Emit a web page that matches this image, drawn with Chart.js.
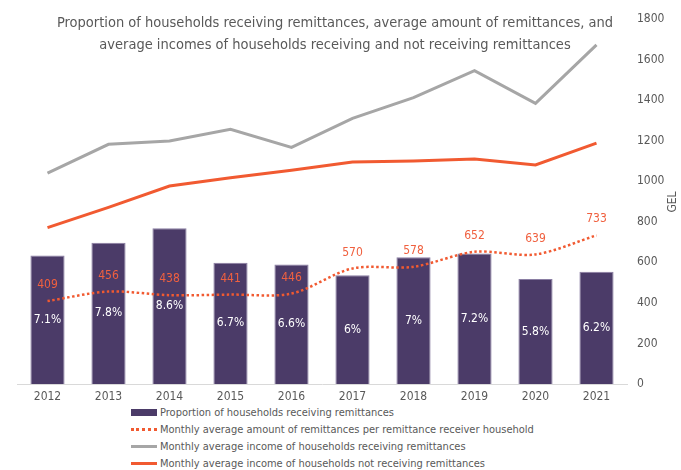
<!DOCTYPE html>
<html>
<head>
<meta charset="utf-8">
<script src="https://cdn.jsdelivr.net/npm/chart.js@4.4.0/dist/chart.umd.min.js"></script>
<style>
    body { margin: 0; background: #fff; }
    #wrap { position: relative; width: 681px; height: 470px; font-family: 'DejaVu Sans Condensed', 'Liberation Sans Narrow', 'DejaVu Sans', sans-serif; }
    #legend { position: absolute; left: 131px; top: 404px; color: #595959; font-size: 11px; }
    .leg-row { height: 17px; display: flex; align-items: center; white-space: nowrap; }
    .leg-mark { width: 26px; margin-right: 3px; }
</style>
</head>
<body>
<div id="wrap">
    <canvas id="remitChart" width="681" height="404"></canvas>
    <div id="legend"></div>
</div>
<script>
const FONT = "'DejaVu Sans Condensed', 'Liberation Sans Narrow', 'DejaVu Sans', sans-serif";
const TEXT_COLOR = '#595959';

// ==========================================================
// DATA
// ==========================================================
const years = ['2012', '2013', '2014', '2015', '2016', '2017', '2018', '2019', '2020', '2021'];
const shareReceiving = [7.1, 7.8, 8.6, 6.7, 6.6, 6, 7, 7.2, 5.8, 6.2];            // %
const avgRemittance = [409, 456, 438, 441, 446, 570, 578, 652, 639, 733];          // GEL
const incomeReceiving = [1040, 1182, 1198, 1256, 1167, 1310, 1412, 1545, 1384, 1672];
const incomeNotReceiving = [771, 871, 976, 1017, 1054, 1095, 1100, 1109, 1080, 1188];
const gelTicks = [0, 200, 400, 600, 800, 1000, 1200, 1400, 1600, 1800];

const titleLines = [
    'Proportion of households receiving remittances, average amount of remittances, and',
    'average incomes of households receiving and not receiving remittances'
];
const seriesNames = [
    'Proportion of households receiving remittances',
    'Monthly average amount of remittances per remittance receiver household',
    'Monthly average income of households receiving remittances',
    'Monthly average income of households not receiving remittances'
];

const BAR_COLOR = '#4b3b68';
const ORANGE = '#f15a31';
const GREY = '#a6a6a6';

// ==========================================================
// PLUGIN: title, GEL label and data labels
// ==========================================================
const textPlugin = {
    id: 'textPlugin',
    afterDatasetsDraw(chart) {
        const ctx = chart.ctx;
        ctx.save();

        // bar labels (white, centre of bar)
        ctx.font = '12px ' + FONT;
        ctx.textAlign = 'center';
        ctx.textBaseline = 'middle';
        ctx.fillStyle = '#ffffff';
        chart.getDatasetMeta(0).data.forEach((bar, i) => {
            ctx.fillText(shareReceiving[i] + '%', bar.x, (bar.y + bar.base) / 2);
        });

        // remittance labels above dotted line
        ctx.fillStyle = '#f0603f';
        chart.getDatasetMeta(1).data.forEach((pt, i) => {
            ctx.fillText(String(avgRemittance[i]), pt.x, pt.y - 16);
        });

        // title
        ctx.font = '14.5px ' + FONT;
        ctx.fillStyle = TEXT_COLOR;
        ctx.fillText(titleLines[0], 335, 23);
        ctx.fillText(titleLines[1], 335, 45);

        // axis title, reads bottom to top
        ctx.translate(673, 202);
        ctx.rotate(-Math.PI / 2);
        ctx.font = '12px ' + FONT;
        ctx.fillText('GEL', 0, 0);
        ctx.restore();
    }
};

const chart = new Chart(document.getElementById('remitChart').getContext('2d'), {
    type: 'bar',
    data: {
        labels: years,
        datasets: [
            {
                type: 'bar',
                label: seriesNames[0],
                data: shareReceiving,
                yAxisID: 'yShare',
                backgroundColor: BAR_COLOR,
                borderColor: '#8a7ea3',
                borderWidth: 1,
                barPercentage: 0.56,
                categoryPercentage: 1,
                order: 4
            },
            {
                type: 'line',
                label: seriesNames[1],
                data: avgRemittance,
                yAxisID: 'y',
                borderColor: ORANGE,
                borderWidth: 2.5,
                borderDash: [2.5, 2.5],
                tension: 0.3,
                pointRadius: 0,
                fill: false,
                order: 3
            },
            {
                type: 'line',
                label: seriesNames[2],
                data: incomeReceiving,
                yAxisID: 'y',
                borderColor: GREY,
                borderWidth: 3,
                tension: 0,
                pointRadius: 0,
                fill: false,
                order: 2
            },
            {
                type: 'line',
                label: seriesNames[3],
                data: incomeNotReceiving,
                yAxisID: 'y',
                borderColor: ORANGE,
                borderWidth: 3,
                tension: 0,
                pointRadius: 0,
                fill: false,
                order: 1
            }
        ]
    },
    options: {
        responsive: false,
        animation: false,
        devicePixelRatio: 1,
        layout: { padding: { left: 17, top: 19, right: 0, bottom: 0 } },
        plugins: {
            legend: { display: false },
            title: { display: false },
            tooltip: { enabled: false }
        },
        scales: {
            x: {
                grid: { display: false, drawTicks: false },
                border: { display: true, color: '#d9d9d9', width: 1 },
                ticks: { color: TEXT_COLOR, font: { family: FONT, size: 12 }, padding: 6 },
                afterFit(scale) { scale.height = 20; }
            },
            y: {
                position: 'right',
                min: 0,
                max: 1800,
                afterBuildTicks(scale) { scale.ticks = gelTicks.map(v => ({ value: v })); },
                grid: { display: false, drawTicks: false },
                border: { display: false },
                ticks: {
                    color: TEXT_COLOR,
                    font: { family: FONT, size: 12 },
                    padding: 10,
                    callback: value => String(value)
                },
                afterFit(scale) { scale.width = 54; }
            },
            yShare: {
                display: false,
                min: 0,
                max: 20.15
            }
        }
    },
    plugins: [textPlugin]
});

// ==========================================================
// LEGEND (HTML, left aligned rows)
// ==========================================================
function buildLegend() {
    const box = document.getElementById('legend');
    const marks = [
        `height: 7px; background: ${BAR_COLOR};`,
        `height: 0; border-top: 3px dotted ${ORANGE};`,
        `height: 3px; background: ${GREY};`,
        `height: 3px; background: ${ORANGE};`
    ];
    chart.data.datasets.forEach((ds, i) => {
        const row = document.createElement('div');
        row.className = 'leg-row';
        row.innerHTML = `<span class="leg-mark" style="${marks[i]}"></span><span>${ds.label}</span>`;
        box.appendChild(row);
    });
}
buildLegend();
</script>
</body>
</html>
